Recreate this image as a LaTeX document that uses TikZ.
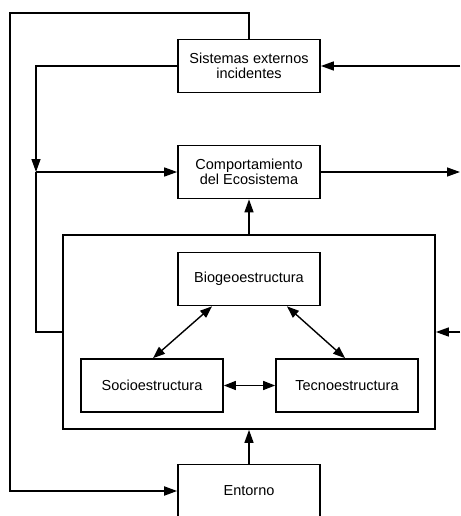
\documentclass[tikz,border=0pt]{standalone}
\usepackage{fontspec}
\setmainfont{Liberation Sans}
\usetikzlibrary{arrows.meta}
\begin{document}
\begin{tikzpicture}[x=1pt,y=-1pt,
  box/.style={draw, line width=1.7pt, minimum width=142pt, minimum height=53pt,
    inner sep=0pt, align=center, font=\fontsize{14.5}{15}\selectfont},
  link/.style={line width=1.4pt},
  tip/.style={link, -{Triangle[length=13pt,width=9pt]}},
  both/.style={link, {Triangle[length=12pt,width=9pt]}-{Triangle[length=12pt,width=9pt]}}]
  \useasboundingbox[fill=white] (0,0) rectangle (460,516);

  % main blocks
  \node[box] (sis) at (249,66) {Sistemas externos\\incidentes};
  \node[box] (comp) at (249,172) {Comportamiento\\del Ecosistema};
  \node[draw, line width=1.7pt, minimum width=372pt, minimum height=194pt, inner sep=0pt] (eco) at (249,332) {};
  \node[box] (bio) at (249,279) {Biogeoestructura};
  \node[box] (soc) at (152,385.5) {Socioestructura};
  \node[box] (tec) at (347,385.5) {Tecnoestructura};
  \node[box] (ent) at (249,491) {Entorno};

  % free ends on the right edge
  \coordinate (inS) at (460,66);
  \coordinate (outC) at (460,172);
  \coordinate (inE) at (460,332);
  \coordinate (jn) at (36,172);

  % outer feedback loop
  \draw[tip, line width=1.8pt] (sis.north) |- (10,13) |- (ent.west);
  % incident systems to behaviour
  \draw[tip] (sis.west) -| (jn);
  \draw[tip] (jn) -- (comp.west);
  \draw[link] (jn) |- (eco.west);

  % external inputs and outputs
  \draw[tip] (inS) -- (sis.east);
  \draw[tip] (comp.east) -- (outC);
  \draw[tip] (inE) -- (eco.east);

  % vertical links
  \draw[tip] (eco.north) -- (comp.south);
  \draw[tip] (ent.north) -- (eco.south);

  % inner relations
  \draw[both] ([xshift=-37pt]bio.south) -- ([xshift=1pt]soc.north);
  \draw[both] ([xshift=38pt]bio.south) -- ([xshift=-2pt]tec.north);
  \draw[both] (soc.east) -- (tec.west);
\end{tikzpicture}
\end{document}
